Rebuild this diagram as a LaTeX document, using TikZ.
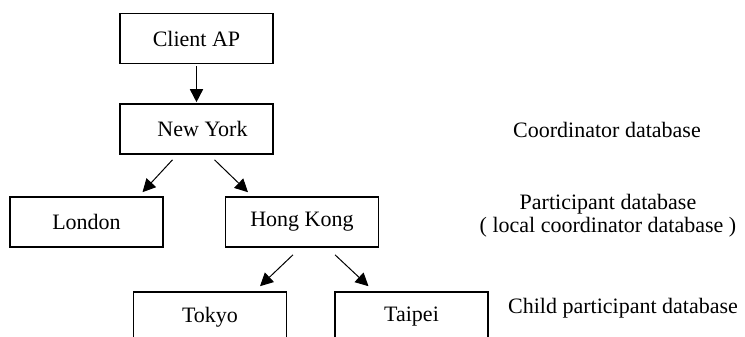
\documentclass[tikz,border=0pt]{standalone}
\usepackage{fontspec}
\setmainfont{Liberation Serif}
\usetikzlibrary{positioning,arrows.meta,calc}
\tikzset{
  dbbox/.style={draw,line width=1.6pt,minimum width=153pt,minimum height=50pt,
    inner sep=0pt,font=\fontsize{22}{24}\selectfont},
  dblabel/.style={font=\fontsize{22}{23}\selectfont,align=center,inner sep=0pt},
  link/.style={line width=1pt,-{Triangle[length=13pt,width=13pt]}},
}

\begin{document}
\begin{tikzpicture}[x=1pt,y=-1pt]
  \path[use as bounding box,clip] (0,0) rectangle (745,337);
  % boxes
  \node[dbbox] (client) at (196.5,38.5) {Client AP};
  \node[dbbox] (ny) at (196.5,129) {\hspace{12pt}New York};
  \node[dbbox] (ldn) at (86.5,222) {London};
  \node[dbbox] (hk) at (302,222) {Hong Kong};
  \node[dbbox] (tyo) at (210,317) {Tokyo};
  \node[dbbox] (tpe) at (411.5,317) {Taipei};
  % levels
  \node[dblabel] (coord) at (607,130) {Coordinator database};
  \node[dblabel] (part) at (608,216) {Participant database\\( local coordinator database )};
  \node[dblabel] (child) at (623,308) {Child participant database};
  % arrows
  \draw[link,line width=1.6pt] ($(client.south)+(0,2)$) -- ($(ny.north)+(0,-1)$);
  \draw[link] ($(ny.south)+(-24,5)$) -- ($(ldn.north)+(56,-4)$);
  \draw[link] ($(ny.south)+(18,5)$) -- ($(hk.north)+(-54,-4)$);
  \draw[link] ($(hk.south)+(-9,7)$) -- ($(tyo.north)+(50,-5)$);
  \draw[link] ($(hk.south)+(33,7)$) -- ($(tpe.north)+(-43,-5)$);
\end{tikzpicture}
\end{document}
